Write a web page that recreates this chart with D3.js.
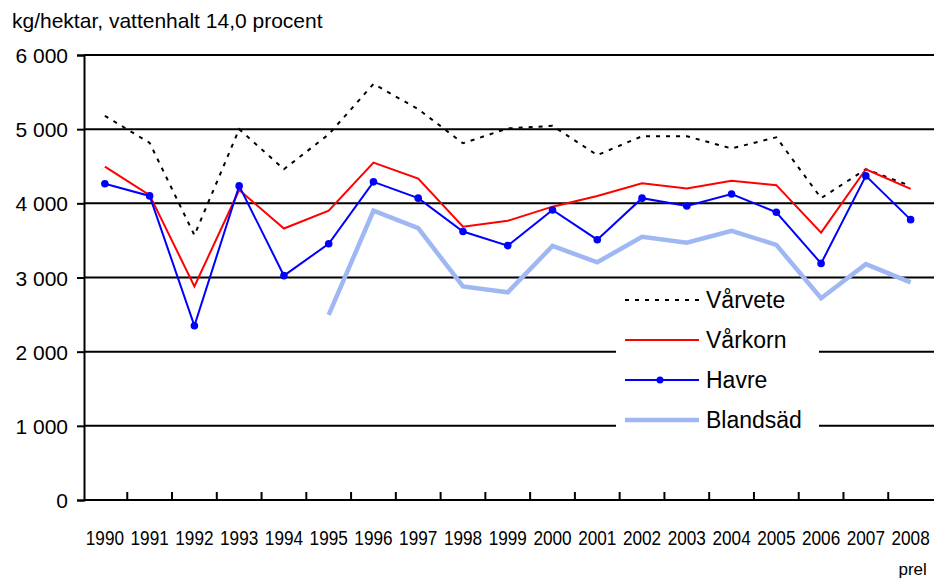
<!DOCTYPE html>
<html>
<head>
<meta charset="utf-8">
<script src="https://cdn.jsdelivr.net/npm/d3@7"></script>
<style>
  body { margin: 0; background: #fff; }
  text { font-family: Arial, "Liberation Sans", sans-serif; fill: #000; }
</style>
</head>
<body>
<script>
// categories and series
const years = ["1990","1991","1992","1993","1994","1995","1996","1997","1998","1999",
               "2000","2001","2002","2003","2004","2005","2006","2007","2008"];
const varvete  = [5180,4815,3570,5000,4460,4930,5610,5270,4810,5010,5045,4650,4905,4905,4740,4890,4070,4460,4235];
const varkorn  = [4495,4110,2880,4180,3660,3900,4550,4335,3685,3765,3955,4100,4270,4200,4305,4245,3605,4460,4195];
const havre    = [4265,4100,2350,4235,3025,3455,4290,4070,3620,3430,3910,3510,4070,3965,4125,3880,3190,4370,3780];
const blandsad = [null,null,null,null,null,2495,3900,3665,2880,2800,3425,3205,3550,3470,3630,3440,2720,3180,2935];
const yTicks = [0,1000,2000,3000,4000,5000,6000];
const legendNames = ["Vårvete","Vårkorn","Havre","Blandsäd"];

const width = 934, height = 580;

const svg = d3.select("body").append("svg")
    .attr("width", width)
    .attr("height", height);

// scales
const x = d3.scalePoint().domain(years).range([82.5, 933]).padding(0.5);
const y = d3.scaleLinear().domain([0, 6000]).range([500, 55]);
const step = x.step();

// unit title
svg.append("text")
    .attr("x", 12).attr("y", 28)
    .style("font-size", "21px")
    .text("kg/hektar, vattenhalt 14,0 procent");

// horizontal gridlines
svg.append("g")
    .selectAll("line")
    .data(yTicks.filter(d => d > 0))
    .join("line")
    .attr("x1", 84).attr("x2", 934)
    .attr("y1", d => y(d)).attr("y2", d => y(d))
    .attr("stroke", "#000")
    .attr("stroke-width", 2);

// y axis
const yAxis = svg.append("g")
    .attr("transform", "translate(84,0)")
    .call(d3.axisLeft(y).tickValues(yTicks).tickSize(7).tickPadding(9)
        .tickFormat(d => d3.format(",")(d).replace(",", " ")));
yAxis.select(".domain").attr("stroke", "#000").attr("stroke-width", 2);
yAxis.selectAll(".tick line").attr("stroke", "#000").attr("stroke-width", 2);
yAxis.selectAll(".tick text")
    .attr("dy", "0.36em")
    .style("font-size", "21px")
    .style("font-family", "Arial, 'Liberation Sans', sans-serif");

// x axis baseline and tick marks between categories
svg.append("line")
    .attr("x1", 84).attr("x2", 934)
    .attr("y1", y(0)).attr("y2", y(0))
    .attr("stroke", "#000").attr("stroke-width", 2);

svg.append("g")
    .selectAll("line")
    .data(years.slice(1))
    .join("line")
    .attr("x1", d => x(d) - step / 2).attr("x2", d => x(d) - step / 2)
    .attr("y1", y(0)).attr("y2", y(0) - 8)
    .attr("stroke", "#000").attr("stroke-width", 2);

// x labels: narrow and tall, as in the original
svg.append("g")
    .selectAll("text")
    .data(years)
    .join("text")
    .attr("transform", d => "translate(" + x(d) + ",545) scale(1,1.2)")
    .attr("text-anchor", "middle")
    .style("font-size", "17.2px")
    .text(d => d);

svg.append("text")
    .attr("x", x("2008") + 2)
    .attr("y", 575)
    .attr("text-anchor", "middle")
    .style("font-size", "17px")
    .text("prel");

// legend background (drawn under the series)
svg.append("rect")
    .attr("x", 616).attr("y", 280)
    .attr("width", 203).attr("height", 164)
    .attr("fill", "#fff");

const line = d3.line()
    .defined(d => d.v != null)
    .x(d => x(d.year))
    .y(d => y(d.v));

const toPoints = arr => arr.map((v, i) => ({year: years[i], v: v}));

const styles = [
  {data: varvete,  color: "#000",    w: 2,   dash: "4,6"},
  {data: varkorn,  color: "#ff0000", w: 2,   dash: null},
  {data: havre,    color: "#0000ff", w: 2,   dash: null},
  {data: blandsad, color: "#9fb7f3", w: 4.5, dash: null}
];

// draw order: Blandsäd at the back, then Vårvete, Vårkorn, Havre
[3, 0, 1, 2].forEach(function (i) {
    const s = styles[i];
    svg.append("path")
        .datum(toPoints(s.data))
        .attr("d", line)
        .attr("fill", "none")
        .attr("stroke", s.color)
        .attr("stroke-width", s.w)
        .attr("stroke-dasharray", s.dash)
        .attr("stroke-linejoin", "miter");
});

// Havre markers
svg.append("g")
    .selectAll("circle")
    .data(toPoints(havre))
    .join("circle")
    .attr("cx", d => x(d.year))
    .attr("cy", d => y(d.v))
    .attr("r", 3.8)
    .attr("fill", "#0000ff");

// legend
const legend = svg.append("g").attr("transform", "translate(625,300)");
legendNames.forEach(function (name, i) {
    const s = styles[i];
    const g = legend.append("g").attr("transform", "translate(0," + (i * 40) + ")");
    g.append("line")
        .attr("x1", 0).attr("x2", 74)
        .attr("y1", 0).attr("y2", 0)
        .attr("stroke", s.color)
        .attr("stroke-width", s.w)
        .attr("stroke-dasharray", s.dash);
    if (i === 2) {
        g.append("circle").attr("cx", 35).attr("cy", 0).attr("r", 3.5).attr("fill", s.color);
    }
    g.append("text")
        .attr("x", 81).attr("y", 8)
        .style("font-size", "23px")
        .text(name);
});
</script>
</body>
</html>
